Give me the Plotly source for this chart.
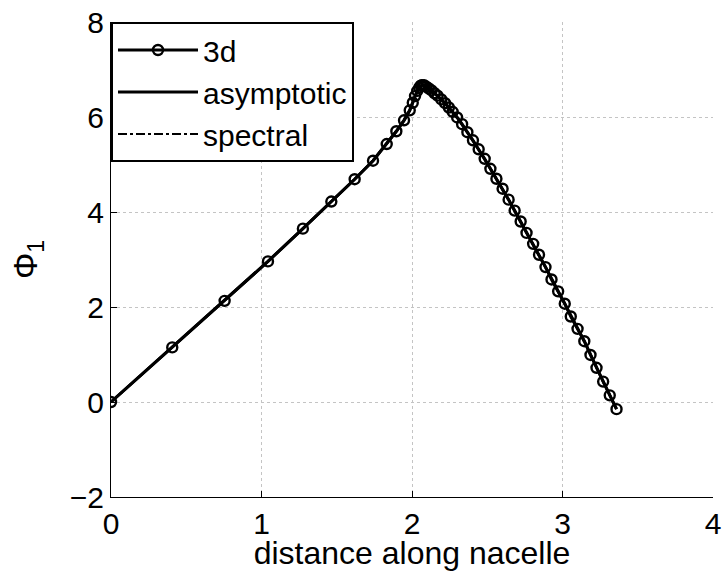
import plotly.graph_objects as go

# ---- data ----
x_3d = [0.0, 0.407, 0.755, 1.043, 1.275, 1.464, 1.619, 1.741, 1.832, 1.896, 1.947,
        1.985, 2.005, 2.020, 2.035, 2.048, 2.058, 2.066, 2.080, 2.095, 2.112, 2.130,
        2.150, 2.170, 2.195, 2.220, 2.245, 2.270, 2.300, 2.333, 2.368, 2.405, 2.443,
        2.483, 2.521, 2.561, 2.602, 2.642, 2.682, 2.722, 2.761, 2.805, 2.844, 2.887,
        2.927, 2.971, 3.015, 3.055, 3.100, 3.145, 3.186, 3.226, 3.270, 3.314, 3.359]
y_3d = [0.0, 1.15, 2.13, 2.96, 3.65, 4.22, 4.69, 5.08, 5.43, 5.70, 5.93,
        6.14, 6.30, 6.44, 6.55, 6.62, 6.66, 6.67, 6.67, 6.64, 6.60, 6.56,
        6.50, 6.45, 6.37, 6.29, 6.20, 6.11, 5.99, 5.85, 5.68, 5.51, 5.32,
        5.12, 4.91, 4.70, 4.49, 4.26, 4.03, 3.80, 3.56, 3.33, 3.10, 2.84,
        2.58, 2.33, 2.07, 1.80, 1.54, 1.28, 0.99, 0.72, 0.43, 0.14, -0.15]

x_asym = [0.0, 0.407, 0.755, 1.043, 1.275, 1.464, 1.619, 1.741, 1.832, 1.896, 1.947,
          1.985, 2.020, 2.048, 2.066, 2.095, 2.150, 2.220, 2.300, 2.405, 2.521,
          2.642, 2.761, 2.887, 3.015, 3.145, 3.270, 3.359]
y_asym = [0.0, 1.15, 2.13, 2.96, 3.65, 4.22, 4.69, 5.08, 5.43, 5.70, 5.93,
          6.14, 6.44, 6.62, 6.67, 6.64, 6.50, 6.29, 5.99, 5.51, 4.91,
          4.26, 3.56, 2.84, 2.07, 1.28, 0.43, -0.15]

x_spec = list(x_asym)
y_spec = list(y_asym)

x_ticks = [0, 1, 2, 3, 4]
y_ticks = [-2, 0, 2, 4, 6, 8]

FONT = "Liberation Sans, Arial, Helvetica, sans-serif"

fig = go.Figure()
fig.add_trace(go.Scatter(
    x=x_3d, y=y_3d, name="3d", mode="lines+markers",
    line=dict(color="black", width=3),
    marker=dict(symbol="circle-open", size=10, color="black", line=dict(width=2.4, color="black")),
))
fig.add_trace(go.Scatter(
    x=x_asym, y=y_asym, name="asymptotic", mode="lines",
    line=dict(color="black", width=3),
))
fig.add_trace(go.Scatter(
    x=x_spec, y=y_spec, name="spectral", mode="lines",
    line=dict(color="black", width=2, dash="dashdot"),
))

axis_common = dict(
    showgrid=True, gridcolor="#c4c4c4", griddash="dot", gridwidth=1,
    zeroline=False, showline=True, linecolor="black", linewidth=1,
    ticks="inside", ticklen=6, tickcolor="black",
    tickfont=dict(family=FONT, size=30, color="black"),
    mirror=False, automargin=False,
)

fig.update_layout(
    width=726, height=571,
    margin=dict(l=111, r=13, t=22, b=74),
    paper_bgcolor="white", plot_bgcolor="white",
    font=dict(family=FONT, color="black"),
    xaxis=dict(range=[0, 4], tickvals=x_ticks,
               title=dict(text="distance along nacelle", font=dict(family=FONT, size=32), standoff=0),
               **axis_common),
    yaxis=dict(range=[-2, 8], tickvals=y_ticks,
               title=dict(text="Φ<sub>1</sub>", font=dict(family=FONT, size=33), standoff=22),
               **axis_common),
    legend=dict(x=0, y=1, xanchor="left", yanchor="top",
                bgcolor="white", bordercolor="black", borderwidth=2,
                font=dict(family=FONT, size=30), itemwidth=80,
                tracegroupgap=0),
    showlegend=True,
)

fig.write_html("out.html")
